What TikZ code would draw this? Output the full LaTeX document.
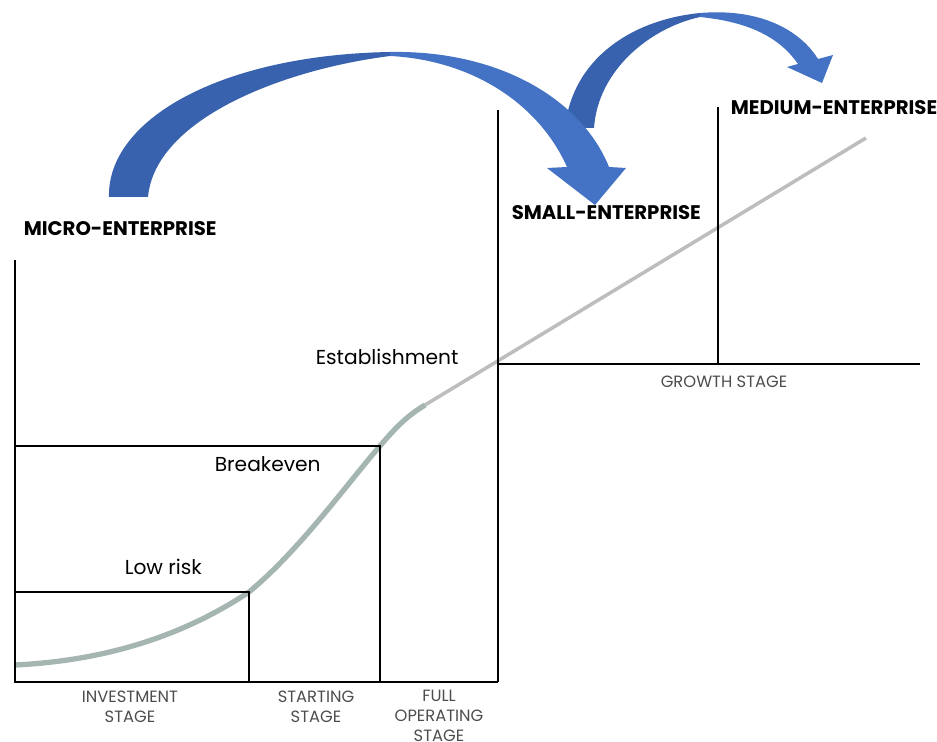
\documentclass[tikz,border=0pt]{standalone}
\usepackage{fontspec}
\setmainfont{Poppins}
\definecolor{arrowblue}{HTML}{4472C4}
\definecolor{arrowdark}{HTML}{3862AE}
\definecolor{curvegray}{HTML}{A5B5B1}
\definecolor{linegray}{HTML}{BDBDBD}
\definecolor{stagegray}{HTML}{4D4D4D}
\begin{document}
\begin{tikzpicture}[x=0.02cm, y=-0.02cm, line width=1.1pt,
  enterprise/.style={anchor=west, font=\bfseries\fontsize{11.2}{13}\selectfont},
  milestone/.style={anchor=west, font=\fontsize{11.5}{13}\selectfont},
  stagelabel/.style={align=center, text=stagegray, font=\fontsize{9.3}{11.5}\selectfont}]
  \useasboundingbox (0,0) rectangle (937,742);

  \coordinate (O) at (15,682);
  \coordinate (A) at (249,592);
  \coordinate (B) at (380,446);
  \coordinate (C) at (498,364);
  \coordinate (D) at (425,405);
  \coordinate (E) at (866,138);

  % second jump, small -> medium (behind the first one)
  \fill[arrowdark] (565,128) .. controls (572,60) and (630,20) .. (700,13) -- (700,17)
    .. controls (650,28) and (598,70) .. (594,128) -- cycle;
  \fill[arrowblue] (700,13) .. controls (760,8) and (800,30) .. (818,59) -- (833,55) -- (822,83) -- (787,67) -- (798,64)
    .. controls (780,38) and (750,22) .. (700,17) -- cycle;

  % first jump, micro -> small
  \fill[arrowdark] (109,197) .. controls (107,120) and (220,55) .. (390,52) -- (390,56)
    .. controls (280,70) and (155,120) .. (148,197) -- cycle;
  \fill[arrowblue] (390,52) .. controls (500,50) and (582,100) .. (609,167) -- (626,168) -- (595,205) -- (547,168) -- (567,167)
    .. controls (538,102) and (470,60) .. (390,56) -- cycle;

  \draw[linegray, line width=2pt] (D) -- (E);
  \draw[curvegray, line width=3pt] (15,665) .. controls (120,660) and (195,628) .. (A)
    .. controls (300,550) and (350,480) .. (B) .. controls (400,422) and (412,413) .. (D);

  \draw (15,260) -- (O) -- (498,682);
  \draw (15,592) -- (A) -- (249,682);
  \draw (15,446) -- (B) -- (380,682);
  \draw (498,110) -- (498,682);
  \draw (C) -- (920,364);
  \draw (718,107) -- (718,364);

  \node[enterprise] (micro) at (17,229) {MICRO-ENTERPRISE};
  \node[enterprise] (small) at (505,213) {SMALL-ENTERPRISE};
  \node[enterprise] (medium) at (724,108) {MEDIUM-ENTERPRISE};

  \node[milestone] (estab) at (309,357) {Establishment};
  \node[milestone] (breakeven) at (208,464) {Breakeven};
  \node[milestone] (lowrisk) at (118,567) {Low risk};

  \node[stagelabel] (invest) at (130,707) {INVESTMENT\\STAGE};
  \node[stagelabel] (starting) at (316,707) {STARTING\\STAGE};
  \node[stagelabel] (fullop) at (439,716) {FULL\\OPERATING\\STAGE};
  \node[stagelabel] (growth) at (724,382) {GROWTH STAGE};
\end{tikzpicture}
\end{document}
